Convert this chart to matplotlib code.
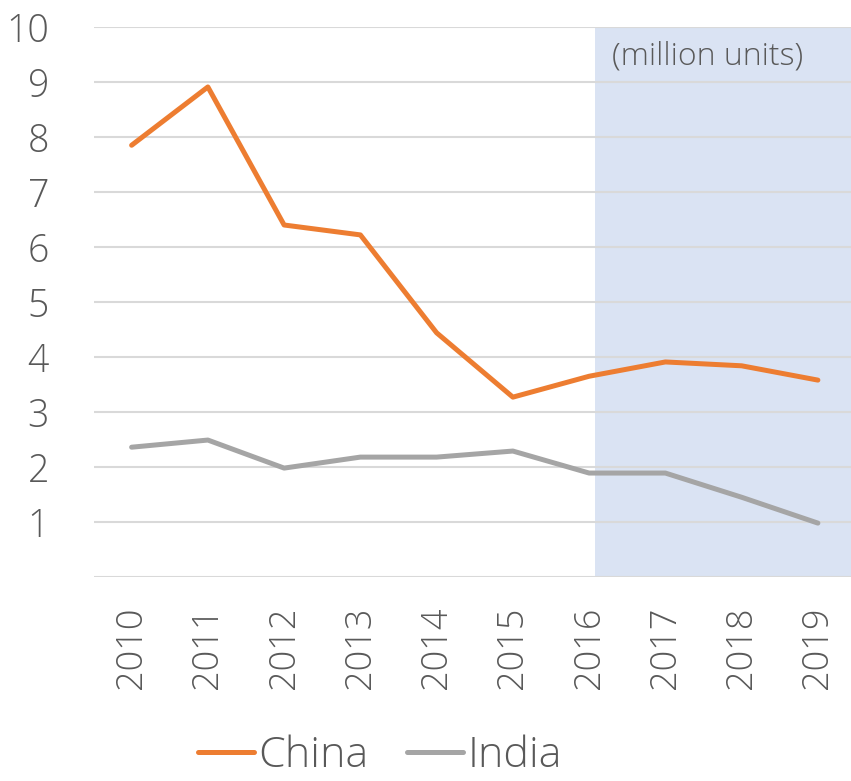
import matplotlib
matplotlib.use('Agg')
import matplotlib.pyplot as plt
import numpy as np

# ----------------- Data -----------------
years = ["2010", "2011", "2012", "2013", "2014", "2015", "2016", "2017", "2018", "2019"]
china = [7.85, 8.91, 6.40, 6.22, 4.44, 3.27, 3.65, 3.91, 3.84, 3.58]
india = [2.36, 2.49, 1.98, 2.18, 2.18, 2.29, 1.89, 1.89, 1.45, 0.98]
y_ticks = [1, 2, 3, 4, 5, 6, 7, 8, 9, 10]

ORANGE = '#ED7D31'
GRAY = '#A5A5A5'
SHADE = '#DAE3F3'
TEXT = '#595959'
GRID = '#D9D9D9'

plt.rcParams['font.family'] = ['Open Sans', 'DejaVu Sans']

W, H = 851, 781
fig = plt.figure(figsize=(W / 100, H / 100), dpi=100)
# plot area runs slightly past the right edge of the image
ax = fig.add_axes([93.5 / W, (H - 577) / H, (856 - 93.5) / W, 550 / H])

x = np.arange(len(years))

# shaded forecast band
ax.axvspan(6.08, 9.5, ymin=0, ymax=1, color=SHADE, zorder=0, lw=0)

for yv in range(0, 11):
    ax.axhline(yv, color=GRID, lw=1.5, zorder=1)

ax.plot(x, china, color=ORANGE, lw=3.6, solid_capstyle='round', label='China', zorder=3)
ax.plot(x, india, color=GRAY, lw=3.6, solid_capstyle='round', label='India', zorder=3)

ax.set_xlim(-0.5, 9.5)
ax.set_ylim(0, 10)
ax.set_yticks(y_ticks)
ax.set_yticklabels([str(v) for v in y_ticks])
ax.set_xticks(x)
ax.set_xticklabels(years, rotation=90)
ax.tick_params(axis='y', length=0, pad=32, labelsize=27, labelcolor=TEXT)
ax.tick_params(axis='x', length=0, pad=21, labelsize=26, labelcolor=TEXT)
for lbl in ax.get_xticklabels() + ax.get_yticklabels():
    lbl.set_fontweight('light')
for s in ax.spines.values():
    s.set_visible(False)

fig.text(612 / W, 1 - 64 / H, '(million units)', fontsize=23, color=TEXT,
         ha='left', va='baseline', fontweight='light')

leg = fig.legend(loc='center', bbox_to_anchor=(380 / W, 1 - 756 / H), ncol=2,
                 frameon=False, fontsize=31, handlelength=1.3, handletextpad=0.1,
                 columnspacing=0.9, labelcolor=TEXT, borderpad=0)
for t in leg.get_texts():
    t.set_fontweight('light')

fig.savefig('out.png', dpi=100)
